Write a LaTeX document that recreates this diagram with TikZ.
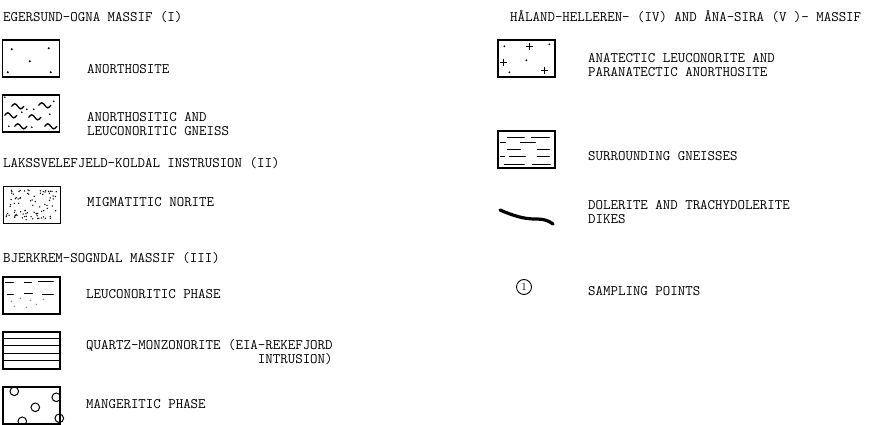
\documentclass[tikz,border=0pt]{standalone}
\newcommand{\tw}{\ttfamily\fontsize{14.5}{14}\selectfont}

\begin{document}
\begin{tikzpicture}[x=1pt, y=-1pt,
    legbox/.style={draw, line width=1.4pt, minimum width=57pt, minimum height=37pt, inner sep=0pt},
    lab/.style={anchor=west, inner sep=0pt, font=\tw, align=left},
    hatch/.style={line width=1pt, line cap=round}]
    \useasboundingbox (0,0) rectangle (880,425);

    % Egersund-Ogna massif
    \node[lab] (hdrEO) at (3,17) {EGERSUND-OGNA MASSIF (I)};
    \node[legbox] (boxAno) at (31,58.5) {};
    \node[lab] (txtAno) at (87,69) {ANORTHOSITE};
    \begin{scope}[shift={(boxAno.north west)}]
        \foreach \p in {(10,10),(47,9),(28,22),(6,33),(49,33)}
            \fill \p circle (1.1pt);
    \end{scope}

    \node[legbox] (boxGn) at (31,113.5) {};
    \node[lab] (txtGn) at (87,124) {ANORTHOSITIC AND\\LEUCONORITIC GNEISS};
    \begin{scope}[shift={(boxGn.north west)}]
        \foreach \x/\y in {10/12, 37/11, 3/21, 27/23, 13/32, 43/32}
            \draw[hatch, line width=1.3pt] (\x,\y) sin ++(3,-2.5) cos ++(3,2.5) sin ++(3,2.5) cos ++(3,-2.5);
        \foreach \p in {(3,3),(25,15),(32,15),(52,7),(48,20),(7,32),(20,18),(30,33)}
            \fill \p circle (0.9pt);
    \end{scope}

    % Lakssvelefjeld-Koldal
    \node[lab] (hdrLK) at (3,163) {LAKSSVELEFJELD-KOLDAL INSTRUSION (II)};
    \node[legbox] (boxMig) at (32,205) {};
    \node[lab] (txtMig) at (87,202) {MIGMATITIC NORITE};
    \begin{scope}[shift={(boxMig.north west)}]
        \pgfmathsetseed{17}
        \foreach \i in {1,...,85}
            \fill ({3+51*rnd},{3+31*rnd}) circle (0.75pt);
    \end{scope}

    % Bjerkrem-Sogndal massif
    \node[lab] (hdrBS) at (3,258) {BJERKREM-SOGNDAL MASSIF (III)};
    \node[legbox] (boxLeu) at (31.5,295.5) {};
    \node[lab] (txtLeu) at (86,294) {LEUCONORITIC PHASE};
    \begin{scope}[shift={(boxLeu.north west)}]
        \foreach \a/\b/\y in {3/11/6, 22/29/6, 36/51/5, 5/11/18, 22/30/17, 40/51/18}
            \draw[hatch] (\a,\y) -- (\b,\y);
        \foreach \p in {(9,25),(18,22),(28,24),(34,28),(12,30),(41,23),(24,31)}
            \fill[gray] \p circle (0.7pt);
    \end{scope}

    \node[legbox] (boxQm) at (31.5,350.5) {};
    \node[lab, align=right] (txtQm) at (86,352) {QUARTZ-MONZONORITE (EIA-REKEFJORD\\INTRUSION)};
    \begin{scope}[shift={(boxQm.north west)}]
        \foreach \y in {7,14.5,22,29.5}
            \draw[line width=0.9pt] (0,\y) -- (57,\y);
    \end{scope}

    \node[legbox] (boxMan) at (31.5,405.5) {};
    \node[lab] (txtMan) at (86,404) {MANGERITIC PHASE};
    \begin{scope}[shift={(boxMan.north west)}]
        \foreach \p in {(12,5),(33,21),(54,11),(20,35),(57,32)}
            \draw[line width=1pt] \p circle (4.3pt);
    \end{scope}

    % Haland-Helleren and Ana-Sira massif
    \node[lab] (hdrHA) at (510,17) {HÅLAND-HELLEREN- (IV) AND ÅNA-SIRA (V )- MASSIF};
    \node[legbox] (boxAna) at (526.5,58.5) {};
    \node[lab] (txtAna) at (588,65) {ANATECTIC LEUCONORITE AND\\PARANATECTIC ANORTHOSITE};
    \begin{scope}[shift={(boxAna.north west)}]
        \foreach \p in {(7,7),(52,5),(29,21),(12,33)}
            \fill \p circle (1pt);
        \foreach \x/\y in {32/7, 6/23, 47/31}
            \draw[line width=1.2pt] (\x-3.5,\y) -- (\x+3.5,\y) (\x,\y-3.5) -- (\x,\y+3.5);
    \end{scope}

    \node[legbox] (boxSur) at (526.5,149.5) {};
    \node[lab] (txtSur) at (588,156) {SURROUNDING GNEISSES};
    \begin{scope}[shift={(boxSur.north west)}]
        \foreach \a/\b/\y in {10/27/7, 34/52/7, 3/8/12, 23/38/12, 10/23/19, 40/52/19,
                              3/7/26, 12/28/26, 40/52/26, 7/27/34, 35/53/34}
            \draw[hatch] (\a,\y) -- (\b,\y);
    \end{scope}

    % dikes and sampling points
    \draw[line width=3.2pt, line cap=round] (500,210) .. controls (514,216) and (524,219) .. (535,219)
        .. controls (545,219) and (549,221) .. (553,224);
    \node[lab] (txtDol) at (588,212) {DOLERITE AND TRACHYDOLERITE\\DIKES};

    \node[circle, draw, line width=0.9pt, inner sep=0pt, minimum size=15pt,
          font=\fontsize{11}{11}\selectfont] (circOne) at (524,287) {1};
    \node[lab] (txtSam) at (588,291) {SAMPLING POINTS};
\end{tikzpicture}
\end{document}
